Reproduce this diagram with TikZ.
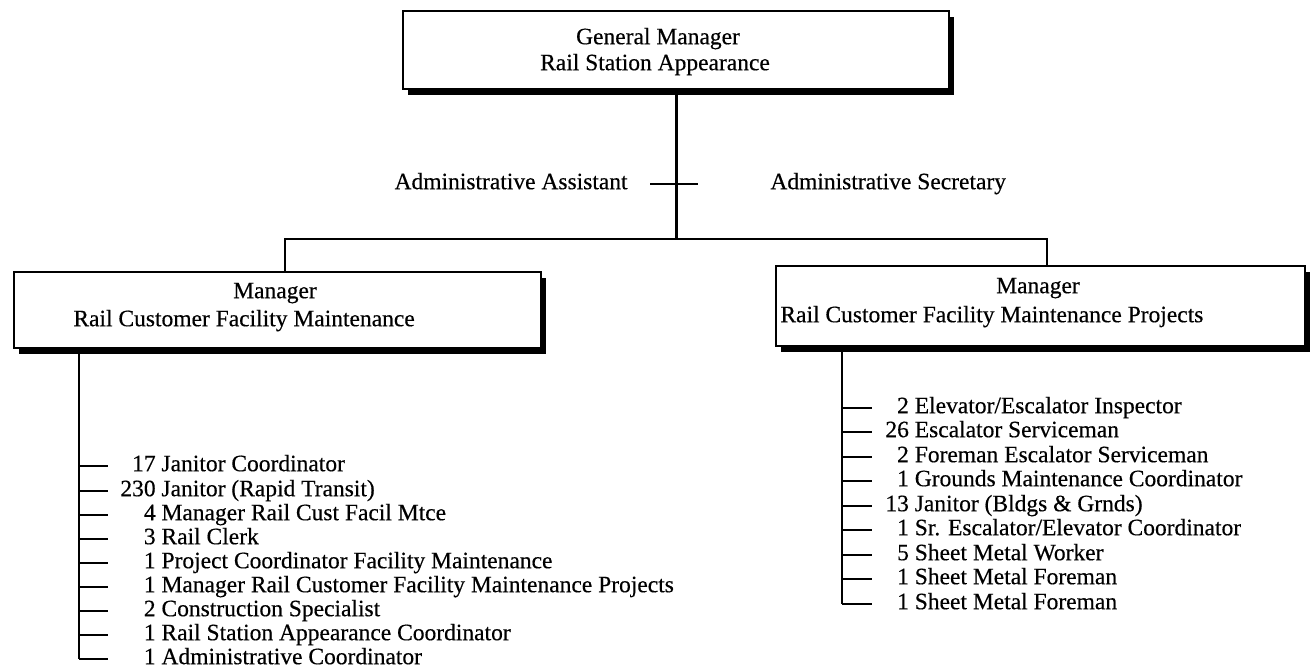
\documentclass[tikz,border=0pt]{standalone}
\usepackage{fontspec}
\setmainfont{Liberation Serif}[FakeBold=0.4]
\usetikzlibrary{shadows}
\begin{document}
\begin{tikzpicture}[x=0.5pt,y=-0.5pt,
  every node/.style={font=\fontsize{11.75}{13}\selectfont, inner sep=0pt},
  box/.style={draw, line width=1.2pt, fill=white, anchor=north west,
    drop shadow={opacity=1, fill=black, shadow xshift=2.2pt, shadow yshift=-2.8pt}},
  conn/.style={line width=1.4pt},
  tick/.style={line width=1pt},
  item/.style={anchor=west}]
\useasboundingbox (0,0) rectangle (1310,671);
% boxes
\node[box, minimum width=273pt, minimum height=39pt] (gm) at (402,10) {};
\node[box, minimum width=263.5pt, minimum height=38pt] (m1) at (13,271) {};
\node[box, minimum width=264.5pt, minimum height=40pt] (m2) at (775,265) {};
% box texts
\node (gmA) at (658,39) {\strut General Manager};
\node (gmB) at (655,65) {\strut Rail Station Appearance};
\node (m1A) at (275,293) {\strut Manager};
\node[anchor=west] (m1B) at (73,321) {\strut Rail Customer Facility Maintenance};
\node (m2A) at (1038,288) {\strut Manager};
\node[anchor=west] (m2B) at (780,317) {\strut Rail Customer Facility Maintenance Projects};
% staff
\node[anchor=east] (asst) at (628,184) {\strut Administrative Assistant};
\node[anchor=west] (secr) at (770,184) {\strut Administrative Secretary};
\coordinate (ta) at (650,184);
\coordinate (tb) at (698,184);
\draw[tick] (ta) -- (tb);
% connectors
\coordinate (j) at (gm.south |- 0,239);
\coordinate (l) at (285,239);
\coordinate (r) at (1047,239);
\draw[conn] (gm.south) -- (j);
\draw[conn] (l |- m1.north) -- (l) -- (r) -- (r |- m2.north);
% left list
\coordinate (lv) at (79,347);
\foreach \y/\n/\t [count=\i] in {466/17/{Janitor Coordinator}, 491/230/{Janitor (Rapid Transit)}, 515/4/{Manager Rail Cust Facil Mtce}, 539/3/{Rail Clerk}, 563/1/{Project Coordinator Facility Maintenance}, 587/1/{Manager Rail Customer Facility Maintenance Projects}, 611/2/{Construction Specialist}, 635/1/{Rail Station Appearance Coordinator}, 659/1/{Administrative Coordinator}}{
  \node[item] (L\i) at (120,\y) {\strut\makebox[1.5em][r]{\n} \t};
  \draw[tick] (lv |- L\i.west) -- ++(29,0);
}
\draw[conn] (lv) -- (lv |- L9.west);
% right list
\coordinate (rv) at (842,345);
\foreach \y/\n/\t [count=\i] in {408/2/{Elevator/Escalator Inspector}, 432/26/{Escalator Serviceman}, 457/2/{Foreman Escalator Serviceman}, 481/1/{Grounds Maintenance Coordinator}, 506/13/{Janitor (Bldgs \& Grnds)}, 530/1/{Sr. Escalator/Elevator Coordinator}, 555/5/{Sheet Metal Worker}, 579/1/{Sheet Metal Foreman}, 604/1/{Sheet Metal Foreman}}{
  \node[item] (R\i) at (885,\y) {\strut\makebox[1em][r]{\n} \t};
  \draw[tick] (rv |- R\i.west) -- ++(30,0);
}
\draw[conn] (rv) -- (rv |- R9.west);
\end{tikzpicture}
\end{document}
